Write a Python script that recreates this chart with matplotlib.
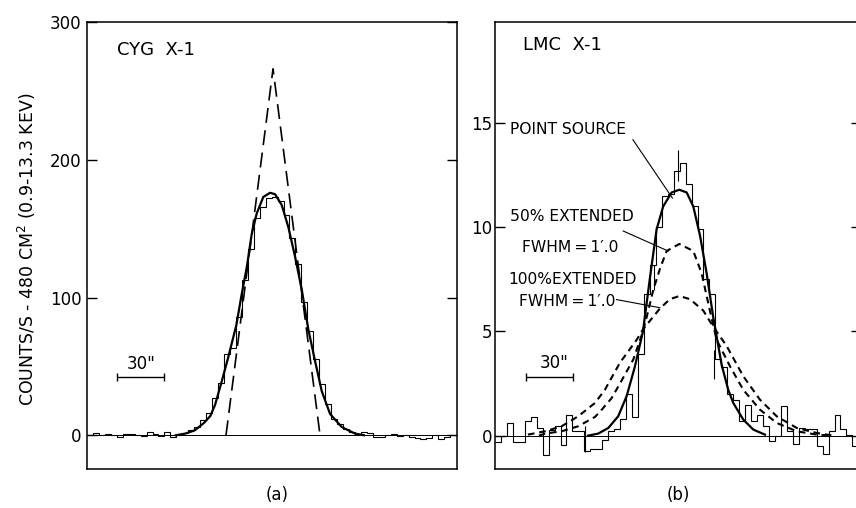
import numpy as np
import matplotlib
matplotlib.use("Agg")
import matplotlib.pyplot as plt

# ---------------- data (offsets in arcsec from source centre) ----------------
BIN_W = 3.8

# Panel (a) CYG X-1 : histogram of counts
cyg_first_edge = -118.7
cyg_counts = [0.5, 1.5, 0.5, 1.0, 0.0, -1.0, 1.0, 1.0, 0.0, -0.5,
              2.0, 1.0, -0.5, 2.0, -1.0, 0.5, 1.5, 3.5, 6.0, 11.0,
              16.0, 27.0, 38.0, 59.0, 63.0, 86.0, 113.0, 135.0, 158.0, 166.0,
              172.0, 173.0, 170.0, 160.0, 143.0, 124.0, 97.0, 76.0, 55.0, 37.0,
              23.0, 12.0, 8.0, 4.5, 2.5, 1.0, 2.0, 1.5, -1.5, -1.0,
              0.0, 1.0, -0.5, 0.5, -1.0, -2.0, -3.0, -2.0, 0.0, -2.5,
              -1.0, 0.5]
# fitted profile (solid)
cyg_fit_x = [-62, -56, -50, -44, -40, -37, -33, -28.7, -23.4, -20.2, -16.6, -13.6,
             -10.4, -6.2, -1.9, 1.3, 5.6, 9.8, 14.0, 18.3, 22.5, 26.8, 31.1, 36.4,
             43.8, 52.3, 58]
cyg_fit_y = [0, 1.2, 3.5, 9, 14, 22, 38, 56, 80, 101, 123, 146,
             161, 173, 176, 175, 167, 151, 130, 106, 77, 54, 32, 15.5,
             6, 1.2, 0]
# point-source response (long dashes)
cyg_psf_x = [-30.0, 0.0, 30.0]
cyg_psf_y = [0, 266, 0]

# Panel (b) LMC X-1
lmc_first_edge = -118.0
lmc_counts = [-0.3, 0.0, 0.6, -0.3, -0.3, 0.7, 0.9, 0.35, -0.95, 0.25,
              0.45, -0.45, 1.0, 0.2, 0.2, -0.75, -0.65, -0.65, -0.2, 0.2,
              0.3, 0.8, 2.0, 0.9, 3.9, 6.8, 8.2, 10.0, 11.5, 11.6,
              12.7, 13.1, 12.1, 11.0, 9.9, 7.5, 6.8, 3.7, 3.3, 2.0,
              1.7, 0.7, 1.45, 0.7, 1.0, 0.45, -0.27, -0.03, 1.4, 0.2,
              -0.4, 0.35, 0.3, 0.3, -0.5, -0.9, 0.2, 1.0, 0.3, 0.05,
              -0.5]
lmc_err_x = [-60.6, -16.6, -1.3, 21.7]
lmc_err_lo = [-0.8, 7.0, 12.2, 2.7]
lmc_err_hi = [0.45, 8.2, 13.7, 4.1]

lmc_point_x = [-58.7, -52.1, -45.7, -39.4, -34.0, -28.8, -23.6, -19.1, -14.9, -10.7,
               -5.3, -0.4, 4.3, 8.5, 12.8, 17.0, 21.2, 26.6, 30.8, 34.0,
               40.4, 46.8, 54.2]
lmc_point_y = [0, 0.1, 0.37, 0.93, 1.9, 3.3, 5.0, 7.6, 9.9, 11.0,
               11.67, 11.8, 11.67, 11.0, 9.6, 7.8, 5.7, 3.4, 2.2, 1.57,
               0.77, 0.29, 0.05]
lmc_ext50_x = [-90, -86, -75.5, -64.9, -54.2, -51, -43.6, -38.3, -29.8, -23.6,
               -21.2, -17.0, -12.8, -8.5, -0.4, 8.5, 13.8, 19.1, 23.4, 31.9,
               40.4, 51.0, 61.7, 74.5, 87.2, 97.6]
lmc_ext50_y = [0, 0.1, 0.21, 0.45, 0.9, 1.15, 1.8, 2.5, 3.65, 5.0,
               5.7, 7.0, 8.0, 8.86, 9.2, 8.86, 7.8, 6.0, 4.6, 3.33,
               2.2, 1.25, 0.61, 0.21, 0.05, 0]
lmc_ext100_x = [-97, -86, -75.5, -64.9, -54.2, -47.9, -38.3, -27.6, -23.6, -12.8,
                -6.4, -0.4, 6.4, 14.9, 20.6, 29.8, 40.4, 51.0, 61.7, 74.5,
                87.2, 97.8]
lmc_ext100_y = [0.05, 0.21, 0.45, 0.93, 1.57, 2.2, 3.5, 4.6, 5.1, 6.1,
                6.55, 6.7, 6.55, 6.0, 5.3, 4.3, 2.85, 1.73, 0.93, 0.37,
                0.13, 0]

cyg_yticks = [0, 100, 200, 300]
lmc_yticks = [0, 5, 10, 15]
SCALE_BAR = 30.0  # arcsec

# ---------------- figure ----------------
W, H = 856, 508
fig = plt.figure(figsize=(W / 100, H / 100), dpi=100)
plt.rcParams['font.family'] = ['DejaVu Sans']

def px_axes(l, r, t, b):
    return fig.add_axes([l / W, 1 - b / H, (r - l) / W, (b - t) / H])

axA = px_axes(87, 457, 22, 469)
axB = px_axes(495, 861, 22, 469)

for ax in (axA, axB):
    for s in ax.spines.values():
        s.set_linewidth(1.1)
    ax.tick_params(axis='y', direction='in', length=7, width=1.0,
                   left=True, right=True, labelsize=12)
    ax.set_xticks([])
    ax.axhline(0, color='black', lw=0.7, zorder=1)

# ---- panel (a)
edgesA = cyg_first_edge + BIN_W * np.arange(len(cyg_counts) + 1)
axA.stairs(cyg_counts, edgesA, baseline=None, color='black', lw=0.8)
axA.plot(cyg_fit_x, cyg_fit_y, color='black', lw=1.6, solid_joinstyle='round')
axA.plot(cyg_psf_x, cyg_psf_y, color='black', lw=1.2, linestyle=(0, (9, 4.5)))
axA.set_xlim(-118.7, 117.4)
axA.set_ylim(-24.5, 300)
axA.set_yticks(cyg_yticks)
axA.tick_params(axis='y', pad=4)
axA.text(-99.5, 280, 'CYG  X-1', fontsize=13, va='center', ha='left')
# 30" scale bar
axA.errorbar([-84.4], [42], xerr=[[SCALE_BAR / 2], [SCALE_BAR / 2]], fmt='none',
             ecolor='black', elinewidth=1.0, capsize=3, capthick=1.0)
axA.text(-84.4, 45, '30"', fontsize=12, ha='center', va='bottom')

# ---- panel (b)
edgesB = lmc_first_edge + BIN_W * np.arange(len(lmc_counts) + 1)
axB.stairs(lmc_counts, edgesB, baseline=None, color='black', lw=0.8)
axB.vlines(lmc_err_x, lmc_err_lo, lmc_err_hi, color='black', lw=0.8)
axB.plot(lmc_point_x, lmc_point_y, color='black', lw=1.6, solid_joinstyle='round')
axB.plot(lmc_ext50_x, lmc_ext50_y, color='black', lw=1.5, linestyle=(0, (3.2, 2.3)))
axB.plot(lmc_ext100_x, lmc_ext100_y, color='black', lw=1.5, linestyle=(0, (3.2, 2.3)))
axB.set_xlim(-118.0, 115.5)
axB.set_ylim(-1.6, 19.85)
axB.set_yticks(lmc_yticks)
axB.tick_params(axis='y', pad=2)
axB.text(-100.2, 18.75, 'LMC  X-1', fontsize=13, va='center', ha='left')
axB.errorbar([-83.4], [2.8], xerr=[[SCALE_BAR / 2], [SCALE_BAR / 2]], fmt='none',
             ecolor='black', elinewidth=1.0, capsize=3, capthick=1.0)
axB.text(-80.5, 3.05, '30"', fontsize=12, ha='center', va='bottom')

lbl = dict(fontsize=11.2, ha='left', va='center')
fwhm = 'FWHM\u2009=\u20091\u2032.0'
axB.text(-108.5, 14.7, 'POINT SOURCE', **lbl)
axB.plot([-30.0, -4.8], [14.2, 11.4], color='black', lw=0.8)
axB.text(-108.5, 10.5, '50% EXTENDED', **lbl)
axB.text(-100.8, 9.04, fwhm, **lbl)
axB.plot([-36.2, -7.5], [9.82, 8.86], color='black', lw=0.8)
axB.text(-109.7, 7.5, '100%EXTENDED', **lbl)
axB.text(-103.0, 6.46, fwhm, **lbl)
axB.plot([-40.5, -12.8], [6.53, 6.14], color='black', lw=0.8)

# ---- figure texts
fig.text(27 / W, 1 - 249 / H, 'COUNTS/S - 480 CM$^2$ (0.9-13.3 KEV)',
         rotation=90, ha='center', va='center', fontsize=12.5)
fig.text(277 / W, 1 - 495 / H, '(a)', ha='center', va='center', fontsize=12)
fig.text(678 / W, 1 - 495 / H, '(b)', ha='center', va='center', fontsize=12)

fig.savefig('out.png', dpi=100)
